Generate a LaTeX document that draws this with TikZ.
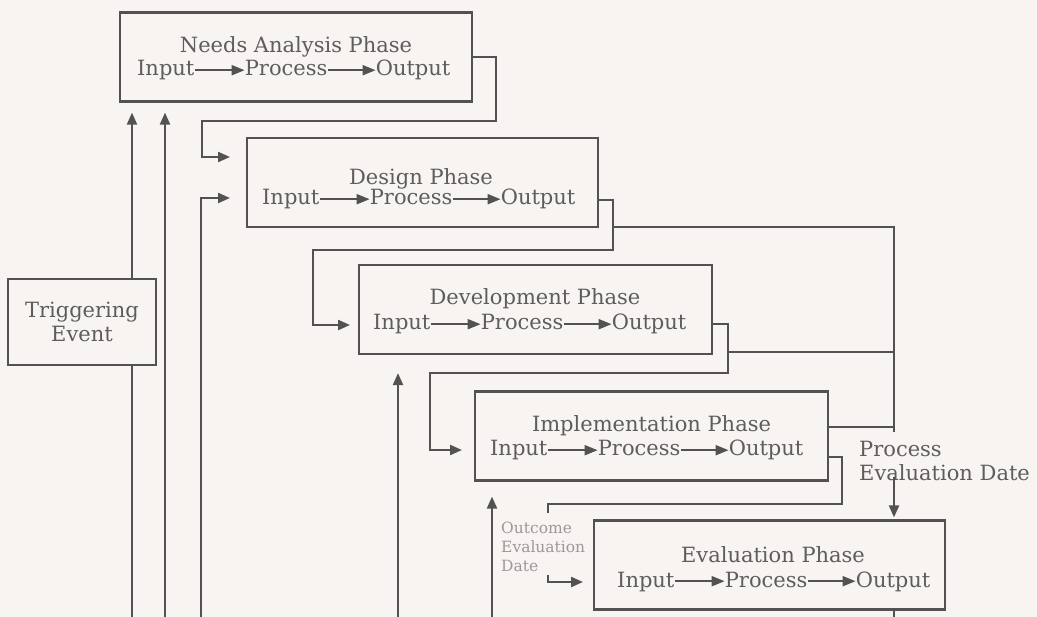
\documentclass[tikz,border=0pt]{standalone}
\usepackage{fontspec}
\setmainfont{DejaVu Serif}
\usetikzlibrary{arrows.meta}
\definecolor{bg}{HTML}{F8F4F2}
\definecolor{lc}{HTML}{535151}
\definecolor{tc}{HTML}{5E5C5C}
\definecolor{tl}{HTML}{9C9898}
\newcommand\ipoline[3]{%
  \node[txt,anchor=base west] (#1-i) at (#2,#3) {Input};
  \node[txt,anchor=base west] (#1-p) at ([xshift=50pt]#1-i.base east) {Process};
  \node[txt,anchor=base west] (#1-o) at ([xshift=48pt]#1-p.base east) {Output};
  \draw[iarr] ([yshift=5.8pt]#1-i.base east) -- ([yshift=5.8pt]#1-p.base west);
  \draw[iarr] ([yshift=5.8pt]#1-p.base east) -- ([yshift=5.8pt]#1-o.base west);
}
\begin{document}
\begin{tikzpicture}[x=1pt,y=-1pt,
  ln/.style={draw=lc,line width=2.2pt},
  arr/.style={ln,-{Triangle[length=12pt,width=10pt]}},
  iarr/.style={draw=lc,line width=2pt,-{Triangle[length=13pt,width=10pt]}},
  phase/.style={draw=lc,line width=2.2pt,rectangle,inner sep=0pt,minimum width=#1,minimum height=89pt},
  txt/.style={text=tc,inner sep=0pt,font=\fontsize{21}{24}\selectfont},
  small/.style={text=tl,inner sep=0pt,font=\fontsize{15.5}{19}\selectfont}]
\useasboundingbox (0,0) rectangle (1037,617);
\fill[bg] (0,0) rectangle (1037,617);

% phase boxes
\node[phase=352pt] (na) at (296,57) {};
\node[phase=351pt] (ds) at (422.5,182.5) {};
\node[phase=353pt] (dv) at (535.5,309.5) {};
\node[phase=353pt] (im) at (651.5,436) {};
\node[phase=351pt] (ev) at (769.5,565) {};
\node[draw=lc,line width=2.2pt,minimum width=148pt,minimum height=86pt,txt,align=center] (tr) at (82,322) {Triggering\\Event};

% titles
\node[txt,anchor=base] (na-t) at (296,53) {Needs Analysis Phase};
\node[txt,anchor=base] (ds-t) at (421,185) {Design Phase};
\node[txt,anchor=base] (dv-t) at (535,305) {Development Phase};
\node[txt,anchor=base] (im-t) at (651.5,432) {Implementation Phase};
\node[txt,anchor=base] (ev-t) at (773,562) {Evaluation Phase};

% input -> process -> output lines
\ipoline{na}{137}{76}
\ipoline{ds}{262}{205}
\ipoline{dv}{373}{330}
\ipoline{im}{490}{456}
\ipoline{ev}{617}{587}

% labels
\node[txt,align=left,anchor=west] (pe) at (859,461) {Process\\Evaluation Date};
\node[small,align=left,anchor=west] (oe) at (501,547) {Outcome\\Evaluation\\Date};

% named coordinates
\coordinate (b132) at (132,617);
\coordinate (b165) at (165,617);
\coordinate (b201) at (201,617);
\coordinate (b398) at (398,617);
\coordinate (b492) at (492,617);
\coordinate (b894) at (894,617);
\coordinate (dsin1) at (230,157);
\coordinate (dsin2) at (230,198);
\coordinate (dvin) at (350,325);
\coordinate (imin) at (462,450);
\coordinate (evin) at (583,582);
\coordinate (j1) at (613,227);
\coordinate (j2) at (728,352);
\coordinate (c894) at (894,477);

% connectors
\draw[arr,shorten >=10pt] (tr.north -| b132) -- (na.south -| b132);
\draw[ln] (tr.south -| b132) -- (b132);
\draw[arr,shorten >=10pt] (b165) -- (na.south -| b165);
\draw[arr] (b201) |- (dsin2);
\draw[arr] (na.east) -| (496,121) -| (202,157) -- (dsin1);
\draw[arr] ([yshift=-17.5pt]ds.east) -| (613,250) -| (313,325) -- (dvin);
\draw[ln] (j1) -- (894,227) -- (894,432);
\draw[arr] ([yshift=-14.5pt]dv.east) -| (728,373) -| (430,450) -- (imin);
\draw[ln] (j2) -- (894,352);
\draw[ln] ([yshift=9pt]im.east) -- (894,427);
\draw[ln] ([yshift=-21pt]im.east) -| (842,504) -| (548,513);
\draw[arr] (548,575) |- (evin);
\draw[arr,shorten >=2pt] (c894) -- (ev.north -| c894);
\draw[arr,shorten >=18pt] (b398) -- (dv.south -| b398);
\draw[arr,shorten >=15pt] (b492) -- (im.south -| b492);
\draw[ln] (ev.south -| b894) -- (b894);
\end{tikzpicture}
\end{document}
